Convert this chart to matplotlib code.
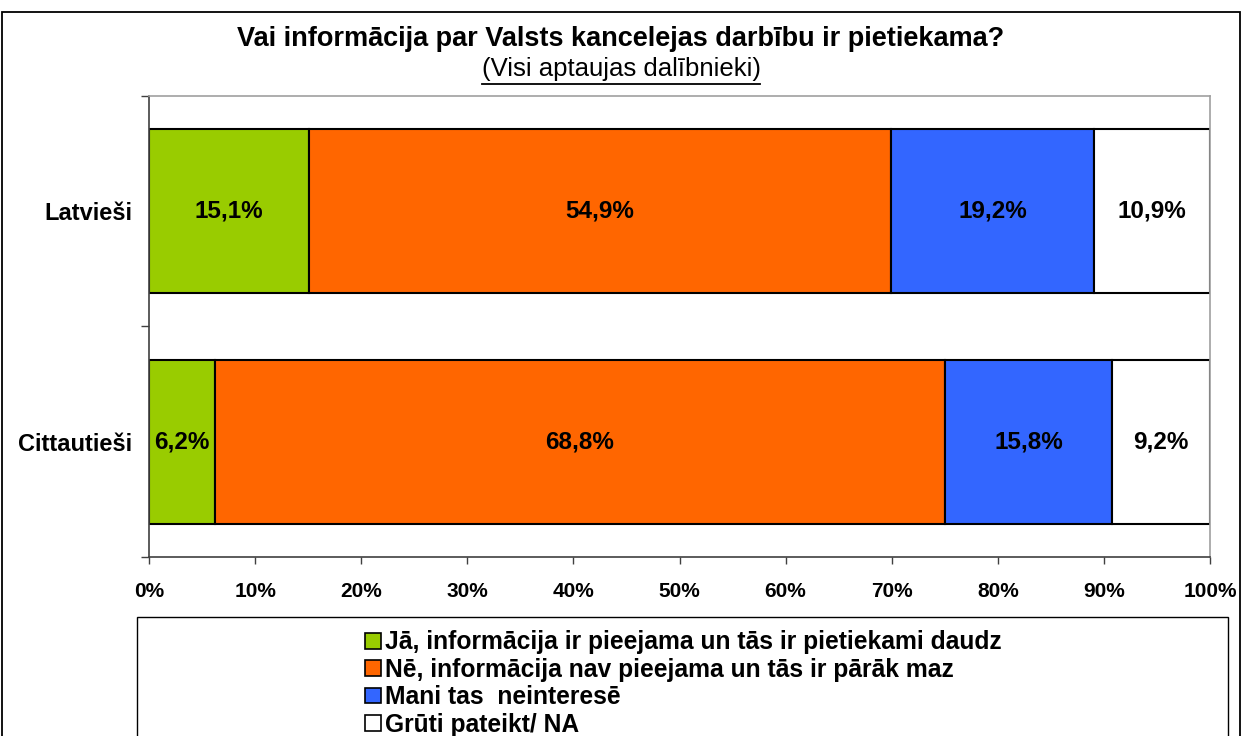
import matplotlib.pyplot as plt
import numpy as np
from matplotlib.patches import Patch, Rectangle
from matplotlib.lines import Line2D

plt.rcParams['font.family'] = ['Liberation Sans', 'DejaVu Sans']

groups = ['Latvieši', 'Cittautieši']
series = ['Jā, informācija ir pieejama un tās ir pietiekami daudz',
          'Nē, informācija nav pieejama un tās ir pārāk maz',
          'Mani tas  neinteresē',
          'Grūti pateikt/ NA']
colors = ['#99CC00', '#FF6600', '#3366FF', '#FFFFFF']
values = np.array([
    [15.1, 54.9, 19.2, 10.9],
    [6.2, 68.8, 15.8, 9.2],
])
labels = [['15,1%', '54,9%', '19,2%', '10,9%'],
          ['6,2%', '68,8%', '15,8%', '9,2%']]

fig = plt.figure(figsize=(12.42, 7.36), dpi=100)
ax = fig.add_axes([149 / 1242, 1 - 557 / 736, (1210 - 149) / 1242, (557 - 96) / 736])

# 100% stacked, like the spreadsheet chart
shares = values / values.sum(axis=1, keepdims=True) * 100
y = np.arange(len(groups))
left = np.zeros(len(groups))
for j in range(len(series)):
    ax.barh(y, shares[:, j], left=left, height=0.71, color=colors[j],
            edgecolor='black', linewidth=1.5, label=series[j])
    for i in range(len(groups)):
        ax.text(left[i] + shares[i, j] / 2, y[i], labels[i][j], ha='center', va='center',
                fontsize=17.5, fontweight='bold')
    left += shares[:, j]

ax.set_xlim(0, 100)
ax.set_ylim(1.5, -0.5)
ax.set_xticks(np.arange(0, 101, 10))
ax.set_xticklabels([f'{v}%' for v in range(0, 101, 10)], fontsize=15, fontweight='bold')
ax.set_yticks([-0.5, 0.5, 1.5])
ax.set_yticklabels([])
ax.set_yticks(y, minor=True)
ax.set_yticklabels(groups, minor=True, fontsize=17, fontweight='bold')
ax.tick_params(axis='y', which='minor', length=0, pad=12)
ax.tick_params(axis='y', which='major', length=6, width=1, color='#404040')
ax.tick_params(axis='x', length=5, width=1, color='#404040', pad=13)
for s in ['left', 'bottom']:
    ax.spines[s].set_color('#404040')
    ax.spines[s].set_linewidth(1.2)
for s in ['top', 'right']:
    ax.spines[s].set_color('#A0A0A0')
    ax.spines[s].set_linewidth(1.2)

# titles
fig.text(0.5, 1 - 39 / 736, 'Vai informācija par Valsts kancelejas darbību ir pietiekama?',
         ha='center', va='center', fontsize=19.5, fontweight='bold')
sub = fig.text(0.5, 1 - 69 / 736, '(Visi aptaujas dalībnieki)', ha='center', va='center', fontsize=18.5)
fig.canvas.draw()
bb = sub.get_window_extent().transformed(fig.transFigure.inverted())
fig.add_artist(Line2D([bb.x0, bb.x1], [1 - 84 / 736] * 2, transform=fig.transFigure,
                      color='black', linewidth=1.3))

# outer frame and legend box
fig.add_artist(Rectangle((2 / 1242, -0.05), 1238 / 1242, 1.05 - 12 / 736, transform=fig.transFigure,
                         fill=False, edgecolor='black', linewidth=1.3))
fig.add_artist(Rectangle((137 / 1242, -0.05), (1228 - 137) / 1242, 0.05 + 1 - 617 / 736,
                         transform=fig.transFigure, fill=False, edgecolor='black', linewidth=1))

handles = [Patch(facecolor=c, edgecolor='black', linewidth=1.2) for c in colors]
leg = fig.legend(handles, series, loc='upper left', bbox_to_anchor=(353 / 1242, 1 - 618 / 736),
                 frameon=False, handlelength=0.62, handleheight=0.62, handletextpad=0.2,
                 labelspacing=0.14, borderpad=0, prop={'size': 17.7, 'weight': 'bold'})

fig.savefig('out.png', dpi=100)
